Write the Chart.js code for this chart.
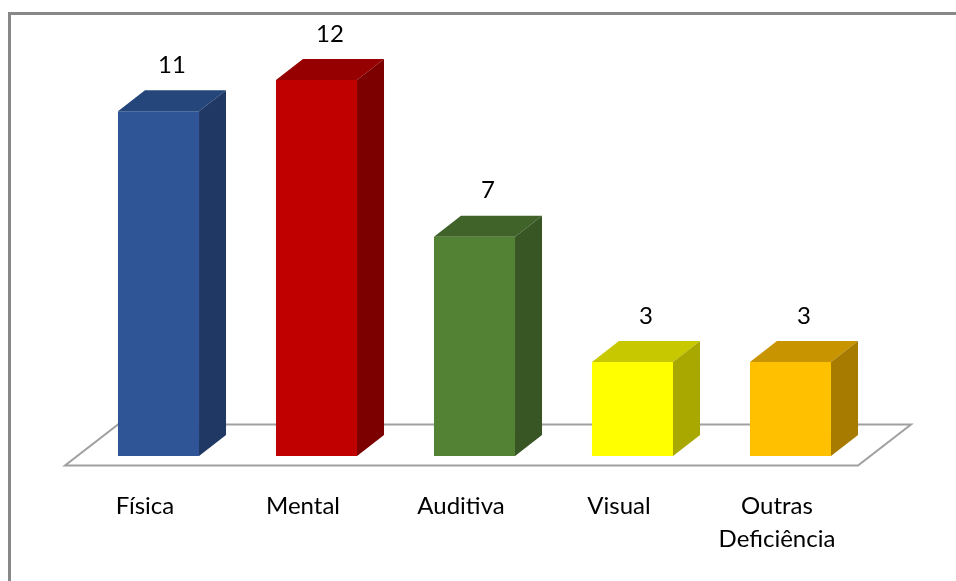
<!DOCTYPE html>
<html>
<head>
<meta charset="utf-8">
<script src="https://cdn.jsdelivr.net/npm/chart.js@4/dist/chart.umd.min.js"></script>
<style>
  html, body { margin: 0; padding: 0; background: #ffffff; overflow: hidden; }
  #wrap { position: relative; width: 956px; height: 581px; }
</style>
</head>
<body>
<div id="wrap"><canvas id="c" width="956" height="581"></canvas></div>
<script>
// Tipos de deficiência e número de casos
const categories = [['Física'], ['Mental'], ['Auditiva'], ['Visual'], ['Outras', 'Deficiência']];
const values = [11, 12, 7, 3, 3];

// Cores das faces de cada coluna (frente, topo, lateral)
const frontColors = ['#2F5597', '#C00000', '#548235', '#FFFF00', '#FFC000'];
const topColors   = ['#25467B', '#960000', '#3F6329', '#C8C800', '#C89500'];
const sideColors  = ['#1F3864', '#7C0000', '#375623', '#A8A800', '#A67B00'];

const FONT = 'Lato, Calibri, Carlito, sans-serif';
const DEPTH_X = 27, DEPTH_Y = 21;      // profundidade das colunas
const FLOOR_X = 53, FLOOR_Y = 41;      // profundidade do piso

// Moldura cinza da área do gráfico
const framePlugin = {
  id: 'frame',
  beforeDraw(chart) {
    const ctx = chart.ctx;
    ctx.save();
    ctx.fillStyle = '#ffffff';
    ctx.fillRect(0, 0, chart.width, chart.height);
    ctx.fillStyle = '#888888';
    ctx.fillRect(8, 12, chart.width - 8, 3);
    ctx.fillRect(8, 12, 3, chart.height - 12);
    ctx.restore();
  }
};

// Piso em perspectiva sob as colunas
const floorPlugin = {
  id: 'floor',
  beforeDatasetsDraw(chart) {
    const ctx = chart.ctx;
    const area = chart.chartArea;
    const base = chart.scales.y.getPixelForValue(0);
    const fy = base + 9.5;
    const fl = area.left - 14.5, fr = area.right - 11.5;
    ctx.save();
    ctx.beginPath();
    ctx.moveTo(fl, fy);
    ctx.lineTo(fr, fy);
    ctx.lineTo(fr + FLOOR_X, fy - FLOOR_Y);
    ctx.lineTo(fl + FLOOR_X, fy - FLOOR_Y);
    ctx.closePath();
    ctx.fillStyle = '#ffffff';
    ctx.fill();
    ctx.strokeStyle = '#a0a0a0';
    ctx.lineWidth = 2;
    ctx.stroke();
    ctx.restore();
  }
};

// Topo e lateral das colunas, e rótulos de valor
const boxPlugin = {
  id: 'box3d',
  afterDatasetsDraw(chart) {
    const ctx = chart.ctx;
    const meta = chart.getDatasetMeta(0);
    ctx.save();
    meta.data.forEach((bar, i) => {
      const p = bar.getProps(['x', 'y', 'base', 'width'], true);
      const l = p.x - p.width / 2, r = p.x + p.width / 2;
      // topo
      ctx.beginPath();
      ctx.moveTo(l, p.y);
      ctx.lineTo(l + DEPTH_X, p.y - DEPTH_Y);
      ctx.lineTo(r + DEPTH_X, p.y - DEPTH_Y);
      ctx.lineTo(r, p.y);
      ctx.closePath();
      ctx.fillStyle = topColors[i];
      ctx.fill();
      // lateral
      ctx.beginPath();
      ctx.moveTo(r, p.y);
      ctx.lineTo(r + DEPTH_X, p.y - DEPTH_Y);
      ctx.lineTo(r + DEPTH_X, p.base - DEPTH_Y);
      ctx.lineTo(r, p.base);
      ctx.closePath();
      ctx.fillStyle = sideColors[i];
      ctx.fill();
      // valor
      ctx.fillStyle = '#000000';
      ctx.font = '24px ' + FONT;
      ctx.textAlign = 'center';
      ctx.textBaseline = 'middle';
      ctx.fillText(String(values[i]), p.x + DEPTH_X / 2, p.y - DEPTH_Y - 25);
    });
    ctx.restore();
  }
};

new Chart(document.getElementById('c'), {
  type: 'bar',
  data: {
    labels: categories,
    datasets: [{
      data: values,
      backgroundColor: frontColors,
      borderWidth: 0,
      barPercentage: 0.513,
      categoryPercentage: 1.0
    }]
  },
  options: {
    responsive: false,
    animation: false,
    devicePixelRatio: 1,
    layout: { padding: { left: 79.5, right: 86.5, top: 17.3, bottom: 0 } },
    plugins: { legend: { display: false }, tooltip: { enabled: false } },
    scales: {
      y: { display: false, min: 0, max: 14 },
      x: {
        grid: { display: false, drawTicks: false },
        border: { display: false },
        ticks: {
          color: '#000000',
          padding: 34,
          labelOffset: -13.5,
          maxRotation: 0,
          autoSkip: false,
          font: { family: FONT, size: 24, lineHeight: 1.375 }
        },
        afterFit(scale) { scale.height = 125; }
      }
    }
  },
  plugins: [framePlugin, floorPlugin, boxPlugin]
});
</script>
</body>
</html>
